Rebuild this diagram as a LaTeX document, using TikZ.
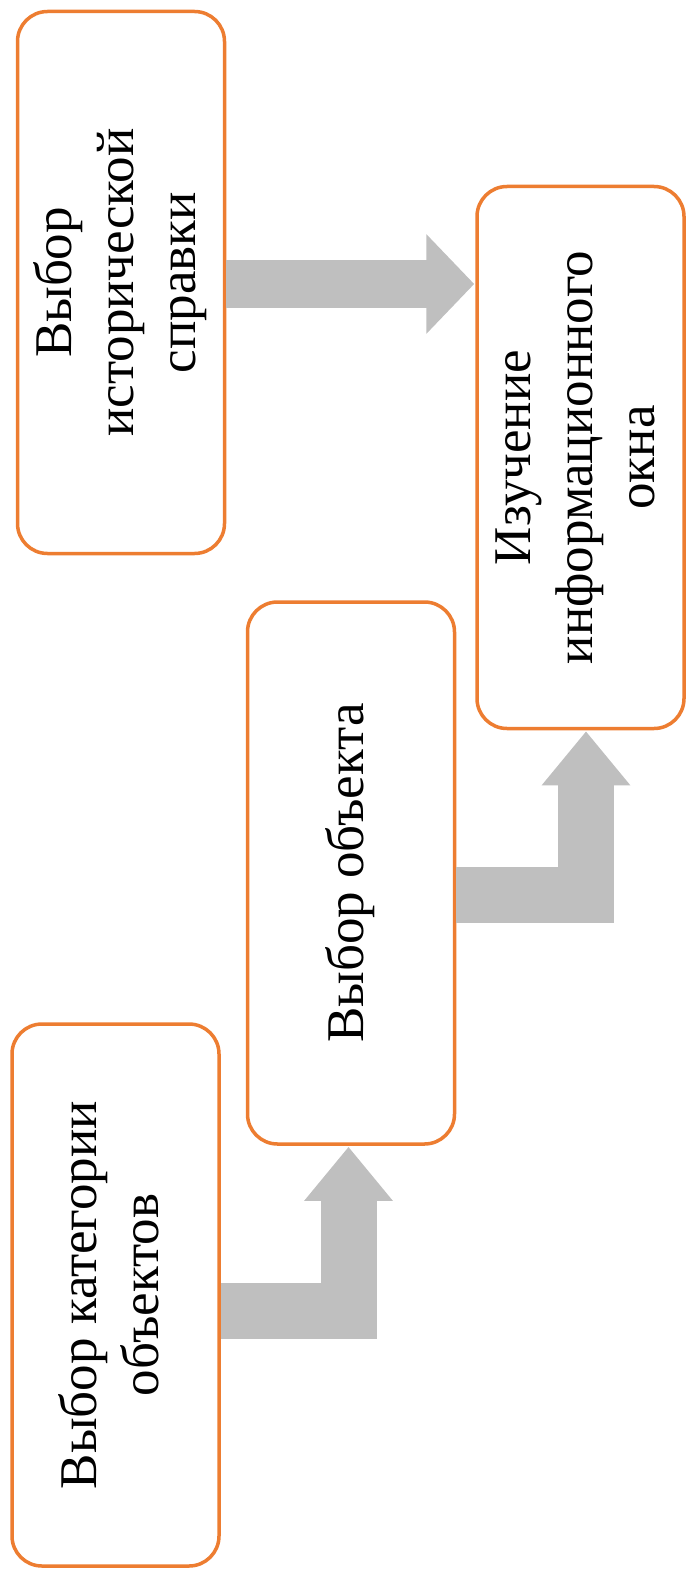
\documentclass[tikz,border=0pt]{standalone}
\usepackage{fontspec}
\setmainfont{Liberation Serif}
\usepackage{graphicx}
\usetikzlibrary{arrows.meta,calc,positioning}
\definecolor{og}{HTML}{ED7D31}
\definecolor{lg}{HTML}{BFBFBF}
\newcommand\vtext[1]{\rotatebox{90}{\begin{tabular}{@{}c@{}}#1\end{tabular}}}
\tikzset{
    box/.style =    {rectangle,
                    rounded corners=30pt,
                    fill=white,
                    draw=og,
                    text=black,
                    line width=3.5pt,
                    minimum width=207pt,
                    minimum height=542pt,
                    inner sep=0pt,
                    font=\fontsize{53}{62}\selectfont},
    flow/.style =   {draw=lg,
                    line cap=butt,
                    line join=miter,
                    shorten >=1pt,
                    line width=56pt,
                    -{Triangle[width=85pt,length=54pt]}},
    flat/.style =   {flow,
                    line width=48pt,
                    -{Triangle[width=97pt,length=48pt]}}}

\begin{document}
\begin{tikzpicture}[x=1pt,y=-1pt]
                \useasboundingbox (0,0) rectangle (686,1570);
                \node[box]  (hist) at (121,282.5)   {\vtext{Выбор\\исторической\\справки}};
                \node[box]  (info) at (580.5,457.5) {\vtext{Изучение\\информационного\\окна}};
                \node[box]  (obj)  at (351,873)     {\vtext{Выбор объекта}};
                \node[box]  (cat)  at (115.5,1295)  {\vtext{Выбор категории\\объектов}};
                % arrows between the steps
                \draw[flat] ($(hist.east)+(0,1.5)$) -- ($(hist.east -| info.west)+(0,1.5)$);
                \draw[flow] ($(cat.east)+(0,16)$) -| ($(obj.south)+(-2.5,0)$);
                \draw[flow] ($(obj.east)+(0,21.5)$) -| ($(info.south)+(5.5,0)$);
        \end{tikzpicture}
\end{document}
